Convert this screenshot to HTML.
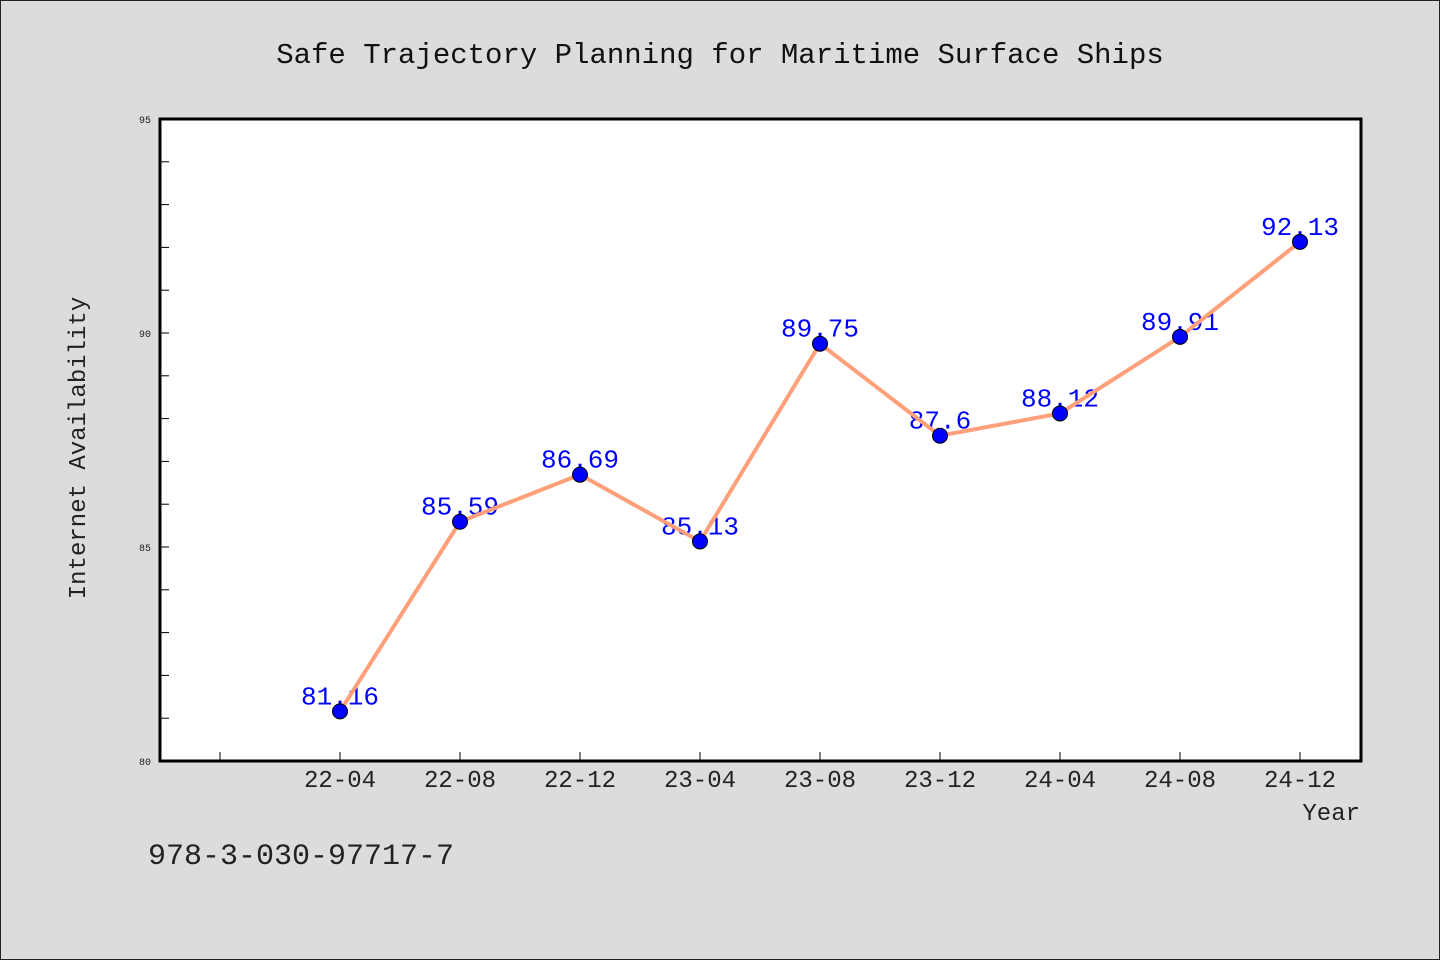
<!DOCTYPE html>
<html><head><meta charset="utf-8"><style>
html,body{margin:0;padding:0;background:#dcdcdc;}
svg{display:block;font-family:"WenQuanYi Zen Hei Mono","Liberation Mono",monospace;}
</style></head><body>
<svg id="chart" width="1440" height="960" xmlns="http://www.w3.org/2000/svg">
<rect x="0.5" y="0.5" width="1439" height="959" fill="#dcdcdc" stroke="#222"/>
<text x="720" y="63" font-size="29" text-anchor="middle" fill="#111">Safe Trajectory Planning for Maritime Surface Ships</text>
<rect x="160" y="119" width="1201" height="642" fill="#fff"/>
<g id="ticks"></g>
<g id="labels"></g>
<g id="series"></g>
<rect x="160" y="119" width="1201" height="642" fill="none" stroke="#000" stroke-width="3"/>
<text transform="translate(85,448) rotate(-90)" font-size="24" text-anchor="middle" fill="#222">Internet Availability</text>
<text x="1360" y="820" font-size="24" text-anchor="end" fill="#222">Year</text>
<text x="148" y="864" font-size="30" fill="#222">978-3-030-97717-7</text>
</svg>
<script>
const categories=["22-04","22-08","22-12","23-04","23-08","23-12","24-04","24-08","24-12"];
const values=[81.16,85.59,86.69,85.13,89.75,87.6,88.12,89.91,92.13];
const valueLabels=["81.16","85.59","86.69","85.13","89.75","87.6","88.12","89.91","92.13"];
const yTicks=[80,85,90,95];
(function(){
const yMin=80,yMax=95,plotTop=119,plotBottom=761,x0=220,step=120;
const ns="http://www.w3.org/2000/svg";
function sy(v){return plotBottom-(v-yMin)/(yMax-yMin)*(plotBottom-plotTop);}
function sx(i){return x0+(i+1)*step;}
function mk(t,a,p){const e=document.createElementNS(ns,t);for(const k in a)e.setAttribute(k,a[k]);p.appendChild(e);return e;}
const tk=document.getElementById('ticks'),lb=document.getElementById('labels'),sr=document.getElementById('series');
for(let v=yMin;v<=yMax;v++){
 const l=mk('line',{x1:160,x2:169,y1:sy(v),y2:sy(v),stroke:'#000','stroke-width':1},tk);
 
 
}
yTicks.forEach(v=>{
 const t=mk('text',{x:151,y:sy(v)+4,'font-size':10,'text-anchor':'end',fill:'#222'},tk);
 t.textContent=v;
 
 
});
for(let i=-1;i<categories.length;i++){
 const l=mk('line',{x1:sx(i),x2:sx(i),y1:plotBottom,y2:plotBottom-9,stroke:'#000','stroke-width':1},tk);
 
 
}
categories.forEach((c,i)=>{
 const t=mk('text',{x:sx(i),y:787,'font-size':24,'text-anchor':'middle',fill:'#222'},tk);
 t.textContent=c;
 
 
});
values.forEach((v,i)=>{
 const t=mk('text',{x:sx(i),y:sy(v)-7,'font-size':26,'text-anchor':'middle',fill:'#0000ff'},lb);
 t.textContent=valueLabels[i];
 
 
});
const pl=mk('polyline',{points:values.map((v,i)=>sx(i)+','+sy(v)).join(' '),fill:'none',stroke:'#ffa07a','stroke-width':4,'stroke-linejoin':'round'},sr);


values.forEach((v,i)=>{
 const c=mk('circle',{cx:sx(i),cy:sy(v),r:7.5,fill:'#0000ff',stroke:'#000','stroke-width':1},sr);
 
 
});
})();
</script>
</body></html>
